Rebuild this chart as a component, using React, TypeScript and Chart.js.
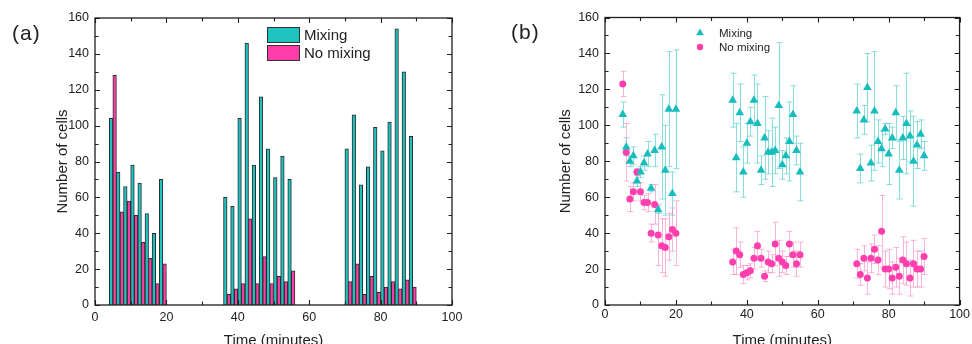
import React, { useEffect, useRef } from "react";
import { Chart, registerables } from "chart.js";
Chart.register(...registerables);

const FONT = "'Liberation Sans', Arial, sans-serif";
const TEXT = "#222222";
const TEAL = "#1cc3c0";
const PINK = "#ff3ca8";
const TEAL_MARK = "#17bcbc";
const PINK_MARK = "#ff3fae";
const TEAL_ERR = "rgba(60,200,200,0.6)";
const PINK_ERR = "rgba(250,120,185,0.55)";

// ---------- Panel (a): bar chart ----------
const barTimes = [5, 7, 9, 11, 13, 15, 17, 19, 37, 39, 41, 43, 45, 47, 49, 51, 53, 55, 71, 73, 75, 77, 79, 81, 83, 85, 87, 89];
const barMixing = [104, 74, 66, 78, 68, 51, 40, 70, 60, 55, 104, 146, 78, 116, 87, 71, 83, 70, 87, 106, 67, 77, 99, 86, 102, 154, 130, 94];
const barNoMixing = [128, 52, 58, 50, 35, 26, 12, 23, 6, 9, 12, 48, 12, 27, 12, 16, 13, 19, 13, 23, 6, 16, 7, 10, 13, 9, 14, 10];

// ---------- Panel (b): scatter with error bars ----------
const scatterTimes = [
  5, 6, 7, 8, 9, 10, 11, 12, 13, 14, 15, 16, 17, 18, 19, 20,
  36, 37, 38, 39, 40, 41, 42, 43, 44, 45, 46, 47, 48, 49, 50, 51, 52, 53, 54, 55,
  71, 72, 73, 74, 75, 76, 77, 78, 79, 80, 81, 82, 83, 84, 85, 86, 87, 88, 89, 90,
];
const mixingMean = [
  106, 88, 80, 83, 69, 74, 79, 84, 65, 86, 53, 88, 75, 109, 62, 109,
  114, 82, 107, 74, 90, 102, 114, 101, 75, 93, 85, 85, 86, 111, 78, 83, 91, 106, 86, 74,
  108, 76, 103, 121, 79, 108, 91, 87, 98, 84, 93, 107, 75, 93, 101, 94, 80, 89, 95, 83,
];
const mixingErr = [
  7, 5, 3, 5, 3, 3, 4, 7, 2, 9, 2, 29, 25, 32, 12, 33,
  15, 19, 16, 14, 11, 8, 14, 22, 8, 23, 12, 19, 13, 35, 8, 10, 22, 16, 8, 16,
  15, 8, 8, 19, 10, 33, 12, 10, 3, 17, 6, 15, 16, 12, 28, 14, 25, 13, 8, 8,
];
const noMixingMean = [
  123, 85, 59, 63, 74, 63, 57, 57, 40, 56, 39, 33, 32, 38, 42, 40,
  24, 30, 28, 17, 18, 19, 26, 33, 26, 16, 24, 23, 34, 26, 24, 22, 34, 28, 23, 28,
  23, 17, 26, 15, 26, 31, 25, 41, 20, 20, 15, 21, 16, 25, 23, 15, 23, 20, 20, 27,
];
const noMixingErr = [
  7, 16, 7, 5, 2, 5, 4, 5, 5, 11, 17, 15, 16, 13, 12, 18,
  7, 13, 7, 5, 4, 4, 6, 8, 5, 3, 6, 5, 12, 10, 6, 5, 7, 7, 7, 7,
  8, 6, 7, 9, 8, 8, 8, 20, 10, 11, 9, 11, 10, 13, 12, 10, 13, 10, 10, 10,
];

const xTickLabels = [0, 20, 40, 60, 80, 100];
const yTickLabels = [0, 20, 40, 60, 80, 100, 120, 140, 160];
const xMinorTicks = [0, 10, 20, 30, 40, 50, 60, 70, 80, 90, 100];
const yMinorTicks = [0, 10, 20, 30, 40, 50, 60, 70, 80, 90, 100, 110, 120, 130, 140, 150, 160];

const seriesLabels = ["Mixing", "No mixing"];

// frame + inward ticks on all four sides
const framePlugin = {
  id: "frame",
  afterDraw(chart: any) {
    const { ctx, chartArea: a, scales } = chart;
    const x = scales.x, y = scales.y;
    ctx.save();
    ctx.strokeStyle = "#1e1e1e";
    ctx.lineWidth = 1.3;
    ctx.strokeRect(a.left, a.top, a.right - a.left, a.bottom - a.top);
    ctx.lineWidth = 1.1;
    ctx.beginPath();
    for (const v of xMinorTicks) {
      const px = Math.round(x.getPixelForValue(v)) + 0.5;
      const len = v % 20 === 0 ? 5 : 3.5;
      ctx.moveTo(px, a.bottom);
      ctx.lineTo(px, a.bottom - len);
      ctx.moveTo(px, a.top);
      ctx.lineTo(px, a.top + len);
    }
    for (const v of yMinorTicks) {
      const py = Math.round(y.getPixelForValue(v)) + 0.5;
      const len = v % 20 === 0 ? 5 : 3.5;
      ctx.moveTo(a.left, py);
      ctx.lineTo(a.left + len, py);
      ctx.moveTo(a.right, py);
      ctx.lineTo(a.right - len, py);
    }
    ctx.stroke();
    ctx.restore();
  },
};

const errorBarPlugin = {
  id: "errorBars",
  beforeDatasetsDraw(chart: any) {
    const { ctx, scales } = chart;
    const y = scales.y;
    ctx.save();
    chart.data.datasets.forEach((ds: any, di: number) => {
      const errs: number[] | undefined = ds.errorBars;
      if (!errs) return;
      const meta = chart.getDatasetMeta(di);
      ctx.strokeStyle = ds.errorColor;
      ctx.lineWidth = 1;
      ctx.beginPath();
      meta.data.forEach((pt: any, i: number) => {
        const v = ds.data[i].y;
        const e = errs[i];
        const px = Math.round(pt.x) + 0.5;
        const top = y.getPixelForValue(v + e);
        const bot = y.getPixelForValue(v - e);
        ctx.moveTo(px, top);
        ctx.lineTo(px, bot);
        ctx.moveTo(px - 3, top);
        ctx.lineTo(px + 3, top);
        ctx.moveTo(px - 3, bot);
        ctx.lineTo(px + 3, bot);
      });
      ctx.stroke();
    });
    ctx.restore();
  },
};

const legendAPlugin = {
  id: "legendA",
  afterDraw(chart: any) {
    const { ctx } = chart;
    const ds = chart.data.datasets;
    ctx.save();
    ctx.font = `15px ${FONT}`;
    ctx.textBaseline = "middle";
    ctx.textAlign = "left";
    ds.forEach((d: any, i: number) => {
      const top = 27 + i * 18;
      ctx.fillStyle = d.backgroundColor;
      ctx.fillRect(267, top, 33, 16);
      ctx.strokeStyle = "#333";
      ctx.lineWidth = 1;
      ctx.strokeRect(267.5, top + 0.5, 32, 15);
      ctx.fillStyle = TEXT;
      ctx.fillText(d.label, 304, top + 8.5);
    });
    ctx.restore();
  },
};

const legendBPlugin = {
  id: "legendB",
  afterDraw(chart: any) {
    const { ctx } = chart;
    const ds = chart.data.datasets;
    ctx.save();
    ctx.font = `11.5px ${FONT}`;
    ctx.textBaseline = "middle";
    ctx.textAlign = "left";
    ds.forEach((d: any, i: number) => {
      const cy = 33 + i * 14;
      const cx = 214;
      ctx.fillStyle = d.backgroundColor;
      ctx.beginPath();
      if (d.pointStyle === "triangle") {
        const r = 4.5;
        ctx.moveTo(cx, cy - r);
        ctx.lineTo(cx + r * 0.866, cy + r * 0.5);
        ctx.lineTo(cx - r * 0.866, cy + r * 0.5);
        ctx.closePath();
      } else {
        ctx.arc(cx, cy, 3.2, 0, Math.PI * 2);
      }
      ctx.fill();
      ctx.fillStyle = TEXT;
      ctx.fillText(d.label, 233, cy + 0.5);
    });
    ctx.restore();
  },
};

function axisCommon(kind: "x" | "y", opts: any) {
  const isX = kind === "x";
  return {
    type: "linear",
    min: 0,
    max: isX ? 100 : 160,
    offset: false,
    grid: { display: false, drawTicks: false },
    border: { display: false },
    afterBuildTicks(scale: any) {
      scale.ticks = (isX ? xTickLabels : yTickLabels).map((v) => ({ value: v }));
    },
    ticks: {
      color: TEXT,
      font: { family: FONT, size: 12.5 },
      padding: opts.tickPad,
      maxRotation: 0,
      autoSkip: false,
    },
    title: {
      display: true,
      text: isX ? "Time (minutes)" : "Number of cells",
      color: TEXT,
      font: { family: FONT, size: 15 },
      padding: opts.titlePad,
    },
    afterFit(scale: any) {
      if (isX) scale.height = opts.size;
      else scale.width = opts.size;
    },
  };
}

function BarPanel() {
  const ref = useRef<HTMLCanvasElement | null>(null);
  useEffect(() => {
    if (!ref.current) return;
    const chart = new Chart(ref.current, {
      type: "bar",
      data: {
        datasets: [
          {
            label: seriesLabels[0],
            data: barTimes.map((t, i) => ({ x: t, y: barMixing[i] })),
            backgroundColor: TEAL,
            borderColor: "#2b2b2b",
            borderWidth: 1,
            barPercentage: 1,
            categoryPercentage: 1,
          },
          {
            label: seriesLabels[1],
            data: barTimes.map((t, i) => ({ x: t, y: barNoMixing[i] })),
            backgroundColor: PINK,
            borderColor: "#2b2b2b",
            borderWidth: 1,
            barPercentage: 1,
            categoryPercentage: 1,
          },
        ],
      } as any,
      options: {
        responsive: false,
        maintainAspectRatio: false,
        animation: false,
        layout: { padding: { left: 0, right: 34, top: 18, bottom: 0 } },
        plugins: { legend: { display: false }, tooltip: { enabled: false } },
        scales: {
          x: axisCommon("x", { tickPad: 5, titlePad: { top: 0, bottom: -5.5 }, size: 39 }),
          y: axisCommon("y", { tickPad: 6, titlePad: { top: 54, bottom: 0 }, size: 95 }),
        } as any,
      },
      plugins: [framePlugin, legendAPlugin],
    });
    return () => chart.destroy();
  }, []);
  return <canvas ref={ref} width={486} height={344} style={{ position: "absolute", left: 0, top: 0, width: 486, height: 344 }} />;
}

function ScatterPanel() {
  const ref = useRef<HTMLCanvasElement | null>(null);
  useEffect(() => {
    if (!ref.current) return;
    const chart = new Chart(ref.current, {
      type: "scatter",
      data: {
        datasets: [
          {
            label: seriesLabels[0],
            data: scatterTimes.map((t, i) => ({ x: t, y: mixingMean[i] })),
            errorBars: mixingErr,
            errorColor: TEAL_ERR,
            pointStyle: "triangle",
            pointRadius: 5,
            backgroundColor: TEAL_MARK,
            borderColor: TEAL_MARK,
            borderWidth: 0,
          },
          {
            label: seriesLabels[1],
            data: scatterTimes.map((t, i) => ({ x: t, y: noMixingMean[i] })),
            errorBars: noMixingErr,
            errorColor: PINK_ERR,
            pointStyle: "circle",
            pointRadius: 3.5,
            backgroundColor: PINK_MARK,
            borderColor: PINK_MARK,
            borderWidth: 0,
          },
        ],
      } as any,
      options: {
        responsive: false,
        maintainAspectRatio: false,
        animation: false,
        layout: { padding: { left: 0, right: 10, top: 17.5, bottom: 0 } },
        plugins: { legend: { display: false }, tooltip: { enabled: false } },
        scales: {
          x: axisCommon("x", { tickPad: 2, titlePad: { top: 0, bottom: -6 }, size: 39 }),
          y: axisCommon("y", { tickPad: 6, titlePad: { top: 71, bottom: 0 }, size: 119 }),
        } as any,
      },
      plugins: [errorBarPlugin, framePlugin, legendBPlugin],
    });
    return () => chart.destroy();
  }, []);
  return <canvas ref={ref} width={486} height={344} style={{ position: "absolute", left: 486, top: 0, width: 486, height: 344 }} />;
}

const panelLabelStyle: React.CSSProperties = {
  position: "absolute",
  fontFamily: FONT,
  fontSize: 21,
  lineHeight: "21px",
  color: TEXT,
  letterSpacing: 1,
};

export default function App() {
  return (
    <div style={{ position: "fixed", left: 0, top: 0, width: 972, height: 344, background: "#fff", overflow: "hidden" }}>
      <BarPanel />
      <ScatterPanel />
      <div style={{ ...panelLabelStyle, left: 12, top: 22 }}>(a)</div>
      <div style={{ ...panelLabelStyle, left: 511, top: 21 }}>(b)</div>
    </div>
  );
}
